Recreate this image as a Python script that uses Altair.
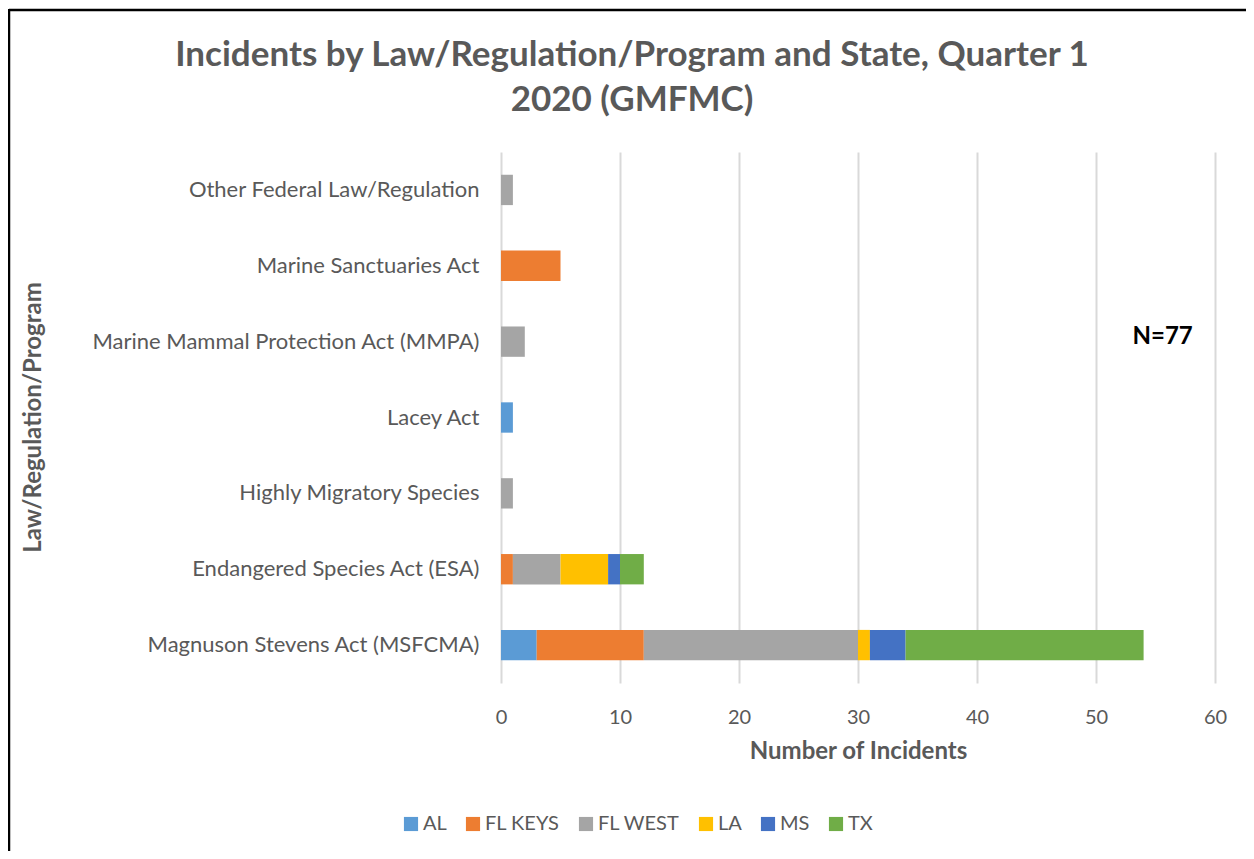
import altair as alt
import pandas as pd

categories = [
    "Other Federal Law/Regulation",
    "Marine Sanctuaries Act",
    "Marine Mammal Protection Act (MMPA)",
    "Lacey Act",
    "Highly Migratory Species",
    "Endangered Species Act (ESA)",
    "Magnuson Stevens Act (MSFCMA)",
]
states = ["AL", "FL KEYS", "FL WEST", "LA", "MS", "TX"]
colors = ["#5B9BD5", "#ED7D31", "#A5A5A5", "#FFC000", "#4472C4", "#70AD47"]

# values per state, in category order
AL = [0, 0, 0, 1, 0, 0, 3]
FL_KEYS = [0, 5, 0, 0, 0, 1, 9]
FL_WEST = [1, 0, 2, 0, 1, 4, 18]
LA = [0, 0, 0, 0, 0, 4, 1]
MS = [0, 0, 0, 0, 0, 1, 3]
TX = [0, 0, 0, 0, 0, 2, 20]

title_lines = ["Incidents by Law/Regulation/Program and State, Quarter 1", "2020 (GMFMC)"]

series = [AL, FL_KEYS, FL_WEST, LA, MS, TX]
rows = []
for si, (st, vals) in enumerate(zip(states, series)):
    for cat, v in zip(categories, vals):
        if v > 0:
            rows.append({"law": cat, "state": st, "n": v, "ord": si})
df = pd.DataFrame(rows)

FONT = "Lato"
GREY = "#595959"

bars = alt.Chart(df).mark_bar().encode(
    y=alt.Y("law:N", sort=categories,
            scale=alt.Scale(paddingInner=0.6, paddingOuter=0.3),
            axis=alt.Axis(title="Law/Regulation/Program", labelFontSize=22, labelColor=GREY,
                          labelFont=FONT, labelPadding=22, ticks=False, domain=False,
                          labelLimit=500, titleFont=FONT, titleFontSize=24, titleColor=GREY,
                          titleFontWeight="bold", titleX=-468, titleY=265, titleAngle=-90,
                          titleAlign="center", titleBaseline="middle")),
    x=alt.X("n:Q", stack="zero", scale=alt.Scale(domain=[0, 60], nice=False),
            axis=alt.Axis(title="Number of Incidents", values=[0, 10, 20, 30, 40, 50, 60],
                          labelFontSize=20, labelColor=GREY, labelFont=FONT, labelPadding=24,
                          labelFlush=False,
                          ticks=False, domain=False, grid=True, gridColor="#D9D9D9", gridWidth=2,
                          titleFont=FONT, titleFontSize=24, titleColor=GREY, titleFontWeight="bold",
                          titlePadding=12)),
    color=alt.Color("state:N", sort=states, scale=alt.Scale(domain=states, range=colors),
                    legend=alt.Legend(title=None, orient="none", direction="horizontal",
                                      legendX=-100, legendY=662, symbolType="square",
                                      symbolSize=200, symbolStrokeWidth=0, labelFontSize=20,
                                      labelColor=GREY, labelFont=FONT, columnPadding=16,
                                      labelOffset=2)),
    order=alt.Order("ord:Q"),
)

note = alt.Chart(pd.DataFrame({"t": ["N=77"]})).mark_text(
    font=FONT, fontSize=24, fontWeight="bold", color="black", align="center", dy=-5
).encode(
    x=alt.datum(55.6),
    y=alt.datum("Marine Mammal Protection Act (MMPA)"),
    text="t:N",
)

title_df = pd.DataFrame({"t": title_lines, "ypos": [-97, -52]})
title = alt.Chart(title_df).mark_text(
    font=FONT, fontSize=35, fontWeight="bold", color=GREY, align="center", baseline="middle"
).encode(
    x=alt.value(131),
    y=alt.Y("ypos:Q", scale=None),
    text="t:N",
)

frame_df = pd.DataFrame({"a": [0]})
top_line = alt.Chart(frame_df).mark_rule(color="black", strokeWidth=2.5).encode(
    x=alt.value(-492), x2=alt.value(760), y=alt.value(-142)
)
left_line = alt.Chart(frame_df).mark_rule(color="black", strokeWidth=2.5).encode(
    x=alt.value(-492), y=alt.value(-143), y2=alt.value(720)
)

chart = alt.layer(bars, note, title, top_line, left_line).properties(
    width=714,
    height=531,
    autosize=alt.AutoSizeParams(type="none"),
    padding={"left": 493, "top": 144, "right": 31, "bottom": 168},
).configure_view(stroke=None)

chart.save("out.html", embed_options={"renderer": "svg", "actions": False})
